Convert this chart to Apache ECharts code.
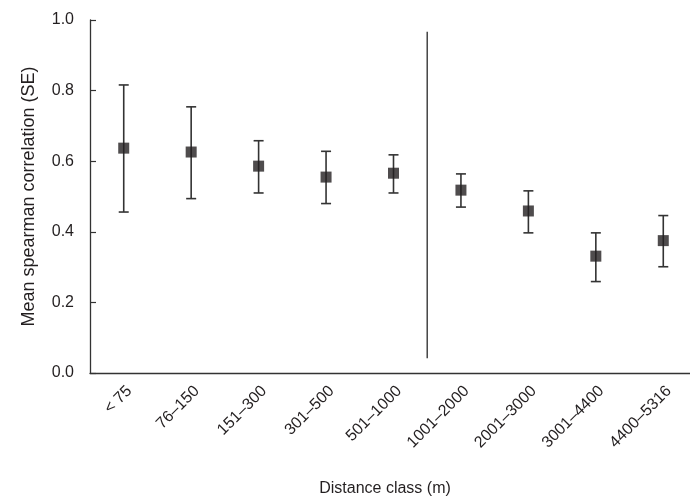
<!DOCTYPE html>
<html>
<head>
<meta charset="utf-8">
<script src="https://cdn.jsdelivr.net/npm/echarts@6/dist/echarts.min.js"></script>
<style>
  html, body { margin: 0; padding: 0; background: #fff; }
  #main { width: 690px; height: 498px; }
</style>
</head>
<body>
<div id="main"></div>
<script>
const categories = ['< 75', '76–150', '151–300', '301–500', '501–1000', '1001–2000', '2001–3000', '3001–4400', '4400–5316'];
const means = [0.637, 0.626, 0.586, 0.555, 0.566, 0.518, 0.459, 0.331, 0.375];
const upper = [0.816, 0.754, 0.658, 0.628, 0.618, 0.564, 0.516, 0.397, 0.446];
const lower = [0.456, 0.494, 0.510, 0.480, 0.510, 0.470, 0.397, 0.259, 0.301];
const yTicks = [0, 0.2, 0.4, 0.6, 0.8, 1.0];
// vertical divider drawn after this category index
const dividerAfter = [4];
const dividerRange = [0.042, 0.967];

const font = '"Liberation Sans", Arial, Helvetica, sans-serif';
const ink = '#231f20';

const chart = echarts.init(document.getElementById('main'), null, { renderer: 'canvas' });

const errData = categories.map((c, i) => [i, lower[i], upper[i]]);

chart.setOption({
  animation: false,
  backgroundColor: '#fff',
  textStyle: { fontFamily: font },
  grid: { left: 90, right: -7, top: 20, bottom: 125, outerBoundsMode: 'none', containLabel: false },
  xAxis: {
    type: 'category',
    data: categories,
    boundaryGap: true,
    name: 'Distance class (m)',
    nameLocation: 'middle',
    nameGap: 108,
    nameTextStyle: { fontSize: 16, color: ink, fontFamily: font, padding: [0, 17, 0, 0] },
    axisLine: { lineStyle: { color: '#333', width: 1.3 } },
    axisTick: { inside: true, length: 6, lineStyle: { color: '#333', width: 1.2 } },
    axisLabel: {
      rotate: 45, fontSize: 16, color: ink, margin: 10, interval: 0,
      verticalAlign: 'top', fontFamily: font
    },
    splitLine: { show: false }
  },
  yAxis: {
    type: 'value',
    min: yTicks[0],
    max: yTicks[yTicks.length - 1],
    interval: 0.2,
    name: 'Mean spearman correlation (SE)',
    nameLocation: 'middle',
    nameGap: 52,
    nameTextStyle: { fontSize: 18, color: ink, fontFamily: font },
    axisLine: { show: true, lineStyle: { color: '#333', width: 1.3 } },
    axisTick: { show: true, inside: true, length: 6, lineStyle: { color: '#333', width: 1.2 } },
    axisLabel: {
      fontSize: 16, color: ink, margin: 16, fontFamily: font,
      formatter: v => v.toFixed(1)
    },
    splitLine: { show: false }
  },
  series: [
    {
      type: 'custom',
      name: 'se',
      data: errData,
      z: 2,
      renderItem: function (params, api) {
        const x = api.value(0);
        const lo = api.coord([x, api.value(1)]);
        const hi = api.coord([x, api.value(2)]);
        const cap = 5;
        const style = { stroke: '#333', lineWidth: 1.6 };
        return {
          type: 'group',
          children: [
            { type: 'line', shape: { x1: lo[0], y1: lo[1], x2: hi[0], y2: hi[1] }, style: style },
            { type: 'line', shape: { x1: hi[0] - cap, y1: hi[1], x2: hi[0] + cap, y2: hi[1] }, style: style },
            { type: 'line', shape: { x1: lo[0] - cap, y1: lo[1], x2: lo[0] + cap, y2: lo[1] }, style: style }
          ]
        };
      }
    },
    {
      type: 'custom',
      name: 'divider',
      data: dividerAfter.map(i => [i, dividerRange[0], dividerRange[1]]),
      z: 1,
      renderItem: function (params, api) {
        const half = api.size([1, 0])[0] / 2;
        const a = api.coord([api.value(0), api.value(1)]);
        const b = api.coord([api.value(0), api.value(2)]);
        return {
          type: 'line',
          shape: { x1: a[0] + half, y1: a[1], x2: b[0] + half, y2: b[1] },
          style: { stroke: '#444', lineWidth: 1.5 }
        };
      }
    },
    {
      type: 'scatter',
      name: 'mean',
      data: means,
      symbol: 'rect',
      symbolSize: 11,
      z: 3,
      itemStyle: { color: '#231f20' }
    }
  ]
});
</script>
</body>
</html>
